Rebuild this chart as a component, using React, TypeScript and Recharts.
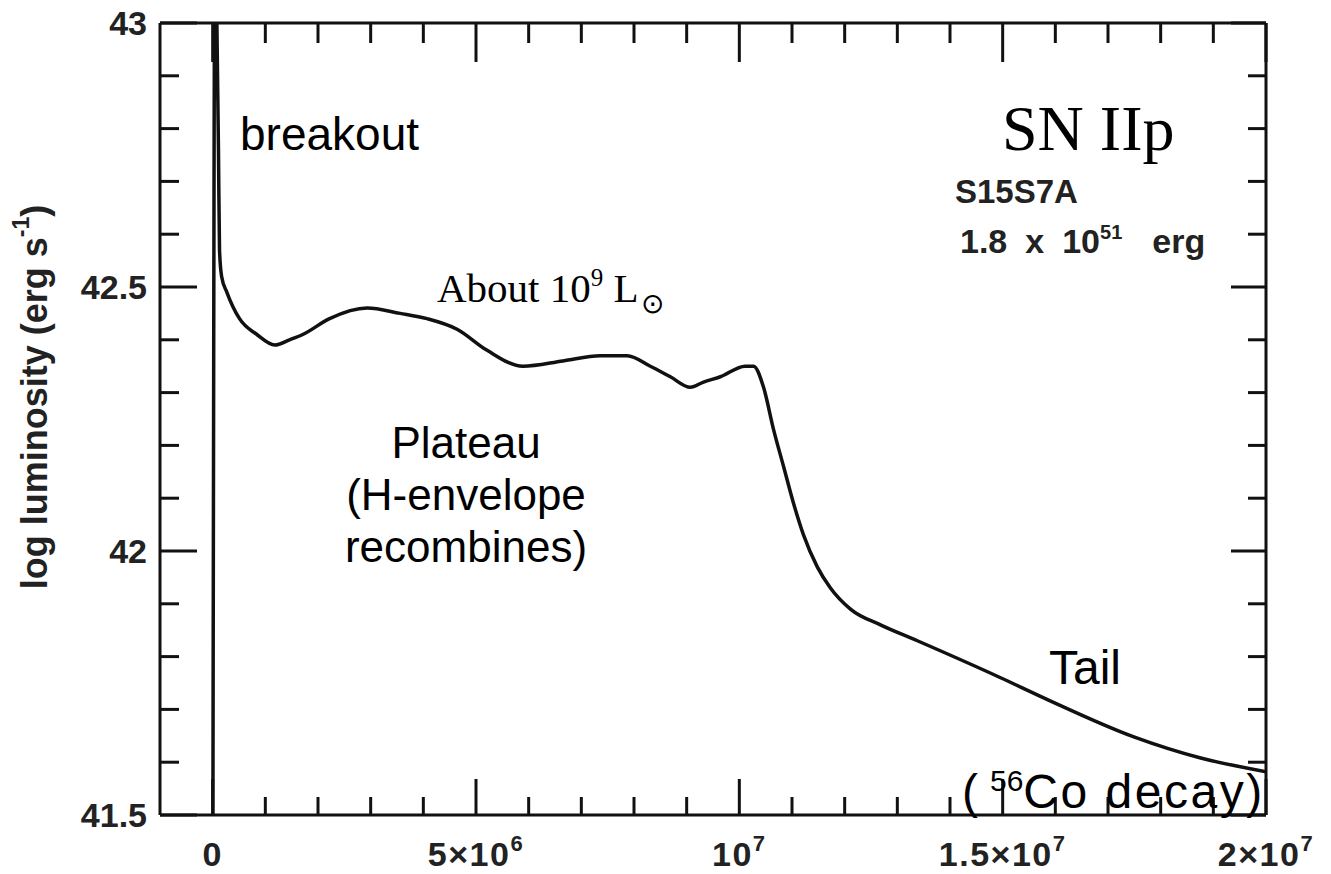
import React from "react";
import { LineChart, Line, XAxis, YAxis } from "recharts";

// time since explosion, in units of 1e6 s
const times = [
  0, 0.05, 0.08, 0.11, 0.13, 0.17, 0.27, 0.51, 0.84, 1.18,
  1.46, 1.71, 2.22, 2.93, 3.56, 4.07, 4.64, 5.21, 5.89, 6.65,
  7.36, 7.87, 8.31, 8.69, 9.07, 9.32, 9.64, 10.11, 10.27, 10.46,
  10.65, 10.84, 11.03, 11.22, 11.48, 11.73, 12.11, 12.68, 13.38, 14.96,
  15.82, 17.49, 18.76, 20.0,
];

// log luminosity (erg s^-1)
const logL = [
  41.2, 43.3, 43.0, 42.76, 42.57, 42.52, 42.49, 42.44, 42.41, 42.39,
  42.4, 42.41, 42.44, 42.46, 42.45, 42.44, 42.42, 42.38, 42.35, 42.36,
  42.37, 42.37, 42.35, 42.33, 42.31, 42.32, 42.33, 42.35, 42.35, 42.31,
  42.23, 42.16, 42.09, 42.03, 41.97, 41.93, 41.89, 41.86, 41.83, 41.76,
  41.72, 41.648, 41.608, 41.582,
];

const X_TICKS = [
  0, 1e6, 2e6, 3e6, 4e6, 5e6, 6e6, 7e6, 8e6, 9e6, 1e7,
  1.1e7, 1.2e7, 1.3e7, 1.4e7, 1.5e7, 1.6e7, 1.7e7, 1.8e7, 1.9e7, 2e7,
];
const X_MAJOR = [0, 5e6, 1e7, 1.5e7, 2e7];
const X_LABEL_BASE = ["0", "5×10", "10", "1.5×10", "2×10"];
const X_LABEL_EXP = ["", "6", "7", "7", "7"];

const Y_TICKS = [
  41.5, 41.6, 41.7, 41.8, 41.9, 42, 42.1, 42.2, 42.3, 42.4,
  42.5, 42.6, 42.7, 42.8, 42.9, 43,
];
const Y_MAJOR = [41.5, 42, 42.5, 43];
const Y_LABELS = ["41.5", "42", "42.5", "43"];

const data = times.map((t, i) => ({ t: t * 1e6, logL: logL[i] }));

const INK = "#111";
const SANS = "'Liberation Sans', Arial, Helvetica, sans-serif";
const SERIF = "'Liberation Serif', 'Times New Roman', serif";

const yMajorIndex = (v: number) => Y_MAJOR.findIndex((m) => Math.abs(m - v) < 1e-6);
const xMajorIndex = (v: number) => X_MAJOR.findIndex((m) => Math.abs(m - v) < 1);

const tickText = {
  fontFamily: SANS,
  fontSize: 34,
  fontWeight: 600,
  fill: "#222",
};

function LeftTick({ x, y, payload }: any) {
  const i = yMajorIndex(payload.value);
  return (
    <g>
      <line x1={x} y1={y} x2={x + (i >= 0 ? 37 : 19)} y2={y} stroke={INK} strokeWidth={3} />
      {i >= 0 && (
        <text x={x - 13} y={y} dy="0.36em" textAnchor="end" {...tickText}>
          {Y_LABELS[i]}
        </text>
      )}
    </g>
  );
}

function RightTick({ x, y, payload }: any) {
  const i = yMajorIndex(payload.value);
  return <line x1={x} y1={y} x2={x - (i >= 0 ? 35 : 18)} y2={y} stroke={INK} strokeWidth={3} />;
}

function BottomTick({ x, y, payload }: any) {
  const i = xMajorIndex(payload.value);
  return (
    <g>
      <line x1={x} y1={y} x2={x} y2={y - (i >= 0 ? 36 : 18)} stroke={INK} strokeWidth={3} />
      {i >= 0 && (
        <text x={x} y={y + 51} textAnchor="middle" letterSpacing={1.5} {...tickText}>
          <tspan>{X_LABEL_BASE[i]}</tspan>
          {X_LABEL_EXP[i] && (
            <tspan dy={-15} fontSize={22}>
              {X_LABEL_EXP[i]}
            </tspan>
          )}
        </text>
      )}
    </g>
  );
}

function TopTick({ x, y, payload }: any) {
  const i = xMajorIndex(payload.value);
  return <line x1={x} y1={y} x2={x} y2={y + (i >= 0 ? 39 : 20)} stroke={INK} strokeWidth={3} />;
}

const axisLine = { stroke: INK, strokeWidth: 3 };

export default function App() {
  return (
    <div style={{ position: "absolute", left: 0, top: 0, width: 1331, height: 874, background: "#fff" }}>
      <LineChart width={1331} height={874} data={data} margin={{ top: 0, right: 0, bottom: 0, left: 0 }}>
        <XAxis
          xAxisId="bottom"
          orientation="bottom"
          type="number"
          dataKey="t"
          domain={[-1e6, 2e7]}
          ticks={X_TICKS}
          interval={0}
          allowDataOverflow
          height={59}
          axisLine={axisLine}
          tickLine={false}
          tickSize={0}
          tickMargin={0}
          tick={<BottomTick />}
        />
        <XAxis
          xAxisId="top"
          orientation="top"
          type="number"
          dataKey="t"
          domain={[-1e6, 2e7]}
          ticks={X_TICKS}
          interval={0}
          allowDataOverflow
          height={23}
          axisLine={axisLine}
          tickLine={false}
          tickSize={0}
          tickMargin={0}
          tick={<TopTick />}
        />
        <YAxis
          yAxisId="left"
          orientation="left"
          type="number"
          domain={[41.5, 43]}
          ticks={Y_TICKS}
          interval={0}
          allowDataOverflow
          width={160}
          axisLine={axisLine}
          tickLine={false}
          tickSize={0}
          tickMargin={0}
          tick={<LeftTick />}
        />
        <YAxis
          yAxisId="right"
          orientation="right"
          type="number"
          domain={[41.5, 43]}
          ticks={Y_TICKS}
          interval={0}
          allowDataOverflow
          width={65}
          axisLine={axisLine}
          tickLine={false}
          tickSize={0}
          tickMargin={0}
          tick={<RightTick />}
        />
        <Line
          xAxisId="bottom"
          yAxisId="left"
          type="monotone"
          dataKey="logL"
          stroke={INK}
          strokeWidth={3.5}
          dot={false}
          activeDot={false}
          isAnimationActive={false}
        />
      </LineChart>

      <svg
        width={1331}
        height={874}
        style={{ position: "absolute", left: 0, top: 0, pointerEvents: "none" }}
      >
        <text
          transform="translate(34 397) rotate(-90)"
          textAnchor="middle"
          dominantBaseline="central"
          fontFamily={SANS}
          fontSize={36}
          fontWeight={600}
          fill="#222"
        >
          log luminosity (erg s
          <tspan dy={-13} fontSize={23}>-1</tspan>
          <tspan dy={13}>)</tspan>
        </text>

        <text x={240} y={150} fontFamily={SANS} fontSize={46} fill="#000">
          breakout
        </text>

        <text x={1002} y={150} fontFamily={SERIF} fontSize={64} fill="#000">
          SN IIp
        </text>
        <text x={955} y={203} fontFamily={SANS} fontSize={33} fontWeight={600} fill="#222">
          S15S7A
        </text>
        <text x={960} y={253} fontFamily={SANS} fontSize={34} fontWeight={600} fill="#222">
          1.8
          <tspan dx={18}>x</tspan>
          <tspan dx={18}>10</tspan>
          <tspan dy={-14} fontSize={20}>51</tspan>
          <tspan dy={14} dx={30}>erg</tspan>
        </text>

        <text x={437} y={302} fontFamily={SERIF} fontSize={41} fill="#000">
          About 10
          <tspan dy={-16} fontSize={25}>9</tspan>
          <tspan dy={16}> L</tspan>
          <tspan dy={11} dx={2} fontSize={28}>⊙</tspan>
        </text>

        <text textAnchor="middle" fontFamily={SANS} fontSize={44} fill="#000">
          <tspan x={466} y={458}>Plateau</tspan>
          <tspan x={466} y={510}>(H-envelope</tspan>
          <tspan x={466} y={562}>recombines)</tspan>
        </text>

        <text x={1049} y={684} fontFamily={SANS} fontSize={48} fill="#000">
          Tail
        </text>
        <text x={962} y={808} fontFamily={SANS} fontSize={48} fill="#000">
          (
          <tspan dx={12} dy={-17} fontSize={30}>56</tspan>
          <tspan dy={17} letterSpacing={2.5}>Co decay)</tspan>
        </text>
      </svg>
    </div>
  );
}
